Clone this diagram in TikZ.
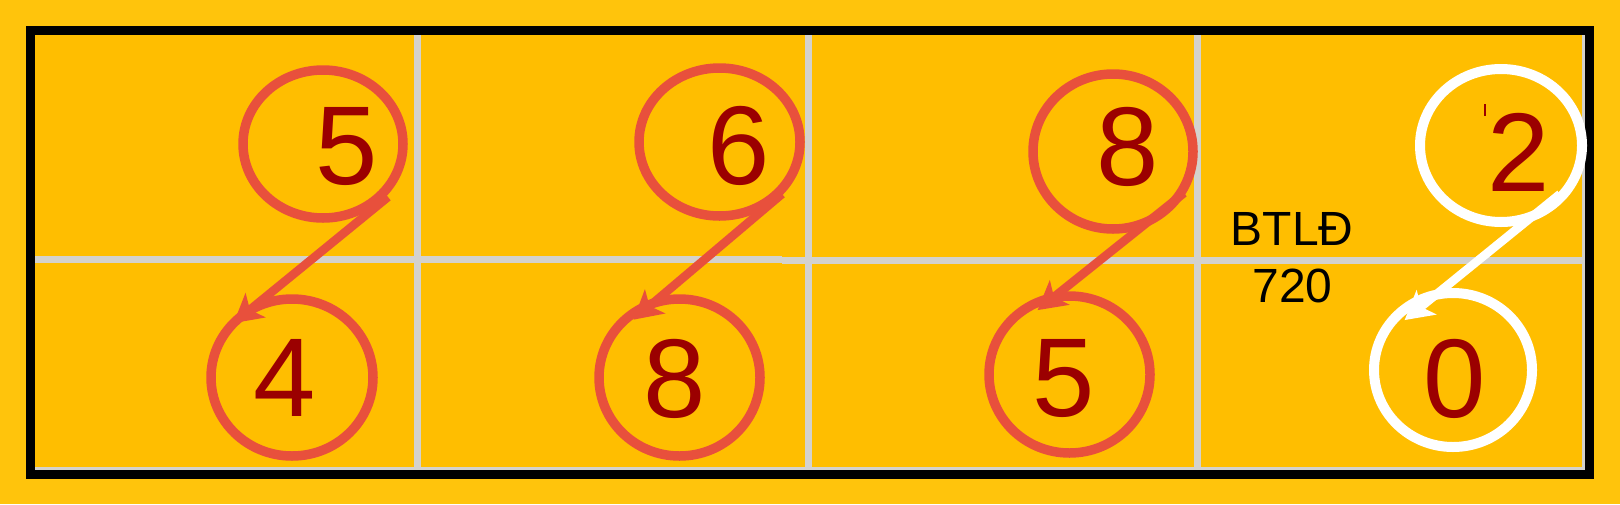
\documentclass[tikz,border=0pt]{standalone}
\usepackage{fontspec}
\setmainfont{Liberation Sans}
\usetikzlibrary{shapes.geometric,arrows.meta}
\definecolor{outerbg}{RGB}{255,196,12}
\definecolor{innerbg}{RGB}{255,190,0}
\definecolor{gridgray}{RGB}{212,210,205}
\definecolor{ringred}{RGB}{232,80,60}
\definecolor{digitred}{RGB}{155,0,0}
\begin{document}
\begin{tikzpicture}[x=0.5pt,y=-0.5pt,
  ring/.style={ellipse,draw=ringred,line width=4.75pt,inner sep=0pt,outer sep=0pt},
  wring/.style={ring,draw=white,line width=5pt},
  digit/.style={text=digitred,font=\fontsize{56}{60}\selectfont,inner sep=0pt},
  lbl/.style={text=black,font=\fontsize{24}{28}\selectfont,inner sep=0pt},
  link/.style={draw=ringred,line width=4.3pt,-{Stealth[length=14pt,width=15.5pt,inset=3.5pt]}},
  wlink/.style={link,draw=white},
  gridline/.style={draw=gridgray,line width=3.5pt}
]
\useasboundingbox (0,0) rectangle (1620,504);
\fill[outerbg] (0,0) rectangle (1620,504);
\fill[innerbg] (35,35) rectangle (1585,470);
% grid
\draw[gridline] (417,35) -- (417,470);
\draw[gridline] (808,35) -- (808,470);
\draw[gridline] (1197,35) -- (1197,470);
\draw[gridline] (35,259) -- (782,259);
\draw[gridline] (782,260) -- (1585,260);
\draw[draw=gridgray,line width=1.5pt] (1583.5,35) -- (1583.5,470);
\draw[draw=gridgray,line width=1.5pt] (35,468.5) -- (1585,468.5);
% border
\draw[black,line width=4.5pt] (30.5,30.5) rectangle (1589.5,474.5);
% rings
\node[ring,minimum width=80pt,minimum height=74pt] (c5a) at (323,144) {};
\node[ring,minimum width=81pt,minimum height=78.5pt] (c4) at (292,377.5) {};
\node[ring,minimum width=80.5pt,minimum height=74pt] (c6) at (719.5,142) {};
\node[ring,minimum width=80.5pt,minimum height=78.5pt] (c8a) at (679.5,377.5) {};
\node[ring,minimum width=80pt,minimum height=77.5pt] (c8b) at (1113,151.5) {};
\node[ring,minimum width=80.5pt,minimum height=78.5pt] (c5b) at (1069.5,374.5) {};
\node[wring,minimum width=81pt,minimum height=76.5pt] (c2) at (1501,145.5) {};
\node[wring,minimum width=79pt,minimum height=77pt] (c0) at (1453,370) {};
% digits
\node[digit] (n5a) at (346.5,147) {5};
\node[digit] (n4) at (284.5,378) {4};
\node[digit] (n6) at (738.5,146) {6};
\node[digit] (n8a) at (675,378.5) {8};
\node[digit] (n8b) at (1127.5,146.5) {8};
\node[digit] (n5b) at (1064,378.5) {5};
\node[digit] (n2) at (1519,152) {2};
\node[digit] (n0) at (1455,379) {0};
\draw[digitred,line width=1pt] (1485,104) -- (1485,116);
% label
\node[lbl] (btl) at (1292,228.5) {BTLĐ};
\node[lbl] (val) at (1292.5,285.5) {720};
% arrows
\coordinate (s1) at (388,197);
\coordinate (s2) at (782,194);
\coordinate (s3) at (1184,193);
\coordinate (s4) at (1560,194);
\draw[link] (s1) -- (c4.137);
\draw[link,shorten >=-12.5pt] (s2) -- (c8a.110);
\draw[link,shorten >=-10pt] (s3) -- (c5b.102);
\draw[wlink,shorten >=-20pt] (s4) -- (c0.103);
\end{tikzpicture}
\end{document}
